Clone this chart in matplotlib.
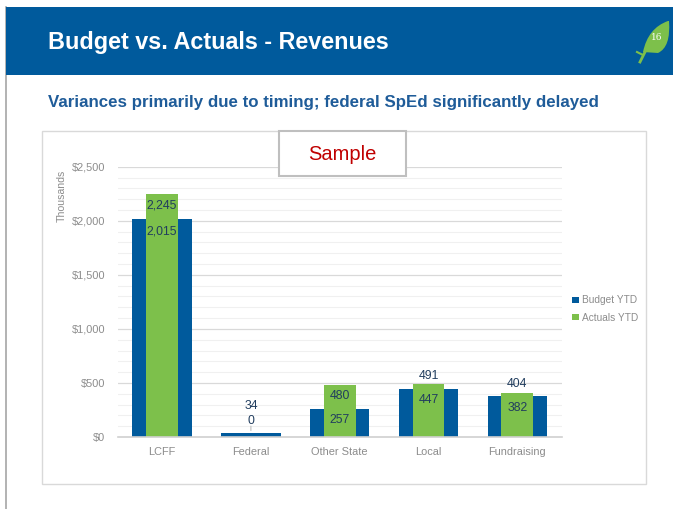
import matplotlib
matplotlib.use("Agg")
import matplotlib.pyplot as plt
from matplotlib.patches import Rectangle, PathPatch
from matplotlib.path import Path
import numpy as np

categories = ["LCFF", "Federal", "Other State", "Local", "Fundraising"]
budget_ytd = [2015, 34, 257, 447, 382]
actuals_ytd = [2245, 0, 480, 491, 404]
y_ticks = [0, 500, 1000, 1500, 2000, 2500]
y_tick_labels = ["$0", "$500", "$1,000", "$1,500", "$2,000", "$2,500"]

BLUE = "#005A9C"
GREEN = "#7DC04B"
GRAY_TXT = "#8C8C8C"
LABEL_C = "#213D5E"

plt.rcParams['font.family'] = ['Liberation Sans', 'DejaVu Sans']

W, H = 673, 509
fig = plt.figure(figsize=(W / 100, H / 100), dpi=100)
fig.patch.set_facecolor("white")

def fx(px):
    return px / W

def fy(py):
    return 1 - py / H

# slide left border
fig.add_artist(plt.Line2D([fx(6), fx(6)], [0, fy(7)], color="#A6A6A6", lw=1.2, zorder=-2))
# header band
fig.add_artist(Rectangle((fx(6), fy(75)), fx(673 - 6), (75 - 7) / H,
                         facecolor=BLUE, edgecolor="none", transform=fig.transFigure, zorder=-2))
fig.text(fx(48), fy(43), "Budget vs. Actuals - Revenues", color="white",
         fontsize=16.8, fontweight="bold", va="center", ha="left")
fig.text(fx(48), fy(102), "Variances primarily due to timing; federal SpEd significantly delayed",
         color="#1F5C99", fontsize=12.2, fontweight="bold", va="center", ha="left")

# leaf icon
leaf = Path([(fx(643), fy(52)), (fx(648), fy(28)), (fx(668), fy(21)),
             (fx(669), fy(21)), (fx(671), fy(47)), (fx(658), fy(53)), (fx(643), fy(52))],
            [Path.MOVETO, Path.CURVE3, Path.CURVE3, Path.LINETO, Path.CURVE3, Path.CURVE3, Path.CLOSEPOLY])
fig.add_artist(PathPatch(leaf, facecolor="#7DC04B", edgecolor="none", transform=fig.transFigure, zorder=-1))
fig.add_artist(plt.Line2D([fx(646), fx(640)], [fy(50), fy(62)], color="#7DC04B", lw=2, zorder=-1))
fig.add_artist(plt.Line2D([fx(643), fx(637)], [fy(55), fy(52)], color="#7DC04B", lw=1.5, zorder=-1))
fig.text(fx(657), fy(38), "16", color="white", fontsize=6.5, ha="center", va="center",
         family=['DejaVu Serif'])

# chart frame
fig.add_artist(Rectangle((fx(42), fy(484)), fx(646 - 42), (484 - 131) / H,
                         facecolor="white", edgecolor="#D9D9D9", lw=1, transform=fig.transFigure,
                         zorder=-1))

ax = fig.add_axes([fx(117.7), fy(437), fx(561.7 - 117.7), (437 - 166.7) / H])
ax.set_facecolor("none")
x = np.arange(len(categories))
ax.bar(x, budget_ytd, width=0.67, color=BLUE, label="Budget YTD", zorder=3)
ax.bar(x, actuals_ytd, width=0.36, color=GREEN, label="Actuals YTD", zorder=4)
ax.set_xlim(-0.5, len(categories) - 0.5)
ax.set_ylim(0, 2500)
ax.set_yticks(y_ticks)
ax.set_yticklabels(y_tick_labels)
ax.set_yticks(np.arange(0, 2501, 100), minor=True)
ax.grid(axis="y", which="major", color="#D9D9D9", lw=0.9, zorder=0)
ax.grid(axis="y", which="minor", color="#F0F0F0", lw=0.8, zorder=0)
ax.set_xticks(x)
ax.set_xticklabels(categories)
ax.tick_params(axis="both", which="both", length=0, colors=GRAY_TXT, labelsize=7.9)
ax.tick_params(axis="y", pad=9)
ax.tick_params(axis="x", pad=7)
for s in ["top", "right", "left"]:
    ax.spines[s].set_visible(False)
ax.spines["bottom"].set_color("#D0D0D0")
ax.spines["bottom"].set_linewidth(1.2)
ax.spines["bottom"].set_zorder(5)
ax.set_ylabel("Thousands", color=GRAY_TXT, fontsize=7.6)
ax_w = 561.7 - 117.7
ax.yaxis.set_label_coords((67 - 117.7) / ax_w, (437 - 196) / 270.3)

# data labels (pixel offsets relative to bar top)
act_off = [-11, 16, -11, 8, 9]
bud_off = [-12, 27, -11, -11, -12]
for i in range(len(categories)):
    ax.annotate(f"{actuals_ytd[i]:,}", (x[i], actuals_ytd[i]), xytext=(0, act_off[i]),
                textcoords="offset pixels", ha="center", va="center", color=LABEL_C,
                fontsize=8.8, zorder=6)
    ax.annotate(f"{budget_ytd[i]:,}", (x[i], budget_ytd[i]), xytext=(0, bud_off[i]),
                textcoords="offset pixels", ha="center", va="center", color=LABEL_C,
                fontsize=8.8, zorder=6)
# leader line for Federal
ax.annotate("", (x[1], budget_ytd[1]), xytext=(0, 10), textcoords="offset pixels",
            arrowprops=dict(arrowstyle="-", color="#BFBFBF", lw=0.8), zorder=6)

leg = ax.legend(loc="center left", bbox_to_anchor=((568 - 117.7) / ax_w, (437 - 309) / 270.3),
                frameon=False, fontsize=7.3, handlelength=0.65, handleheight=0.65,
                handletextpad=0.3, labelspacing=0.7, borderaxespad=0)
for t in leg.get_texts():
    t.set_color(GRAY_TXT)

# Sample box
fig.add_artist(Rectangle((fx(279), fy(176)), fx(406 - 279), (176 - 131) / H,
                         facecolor="white", edgecolor="#BFBFBF", lw=1.5, transform=fig.transFigure,
                         zorder=5))
fig.text(fx(342.5), fy(154), "Sample", color="#C00000", fontsize=14.5, ha="center", va="center",
         zorder=6)

fig.savefig("out.png", dpi=100)
